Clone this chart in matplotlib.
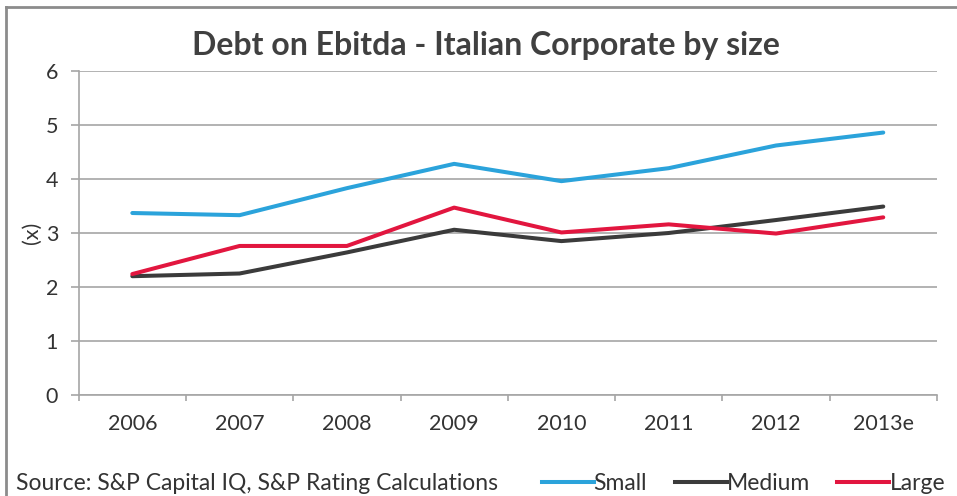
import matplotlib
matplotlib.use("Agg")
import matplotlib.pyplot as plt
from matplotlib.lines import Line2D
import numpy as np

plt.rcParams['font.family'] = ['Lato', 'DejaVu Sans']

years = ["2006", "2007", "2008", "2009", "2010", "2011", "2012", "2013e"]
small = [3.37, 3.33, 3.83, 4.28, 3.96, 4.20, 4.62, 4.86]
medium = [2.20, 2.25, 2.64, 3.06, 2.85, 3.00, 3.24, 3.49]
large = [2.24, 2.76, 2.76, 3.47, 3.01, 3.16, 2.99, 3.29]

series_names = ["Small", "Medium", "Large"]
series_colors = ["#2BA3DB", "#3B3B3B", "#E2163F"]

text_color = "#333333"
grid_color = "#A6A6A6"

fig = plt.figure(figsize=(9.57, 4.96), dpi=100)
ax = fig.add_axes([0.0822, 0.2036, 0.8968, 0.6533])

x = np.arange(len(years))
for vals, name, col in zip([small, medium, large], series_names, series_colors):
    ax.plot(x, vals, color=col, lw=2.9, solid_capstyle='round',
            solid_joinstyle='round', label=name, zorder=3)

ax.set_xlim(-0.5, len(years) - 0.5)
ax.set_ylim(0, 6)
ax.set_yticks(range(0, 7))
ax.yaxis.grid(True, color=grid_color, lw=1.2)
ax.set_axisbelow(True)

ax.set_xticks(x)
ax.set_xticklabels(years)
ax.set_xticks(np.arange(-0.5, len(years)), minor=True)
ax.tick_params(axis='x', which='major', length=0, pad=14, labelsize=15.5,
               labelcolor=text_color)
ax.tick_params(axis='x', which='minor', length=4.5, width=1.2, color=grid_color,
               direction='out')
ax.tick_params(axis='y', length=5.8, width=1.2, color=grid_color, pad=9,
               labelsize=15.5, labelcolor=text_color)

for s in ['top', 'right']:
    ax.spines[s].set_visible(False)
for s in ['left', 'bottom']:
    ax.spines[s].set_color(grid_color)
    ax.spines[s].set_linewidth(1.2)

ax.set_ylabel("(x)", fontsize=15.5, color=text_color, labelpad=3)

fig.text(0.508, 0.908, "Debt on Ebitda - Italian Corporate by size",
         ha='center', va='center', fontsize=23, fontweight='bold',
         color="#404040")

fig.text(0.0167, 0.026, "Source: S&P Capital IQ, S&P Rating Calculations",
         ha='left', va='center', fontsize=16.5, color=text_color)

handles = [Line2D([], [], color=c, lw=2.9) for c in series_colors]
leg = fig.legend(handles, series_names, loc='center right',
                 bbox_to_anchor=(0.9875, 0.026), ncol=3, frameon=False,
                 fontsize=16.5, handlelength=2.27, handletextpad=0.0,
                 columnspacing=1.2, borderaxespad=0.0, borderpad=0.0)
for t in leg.get_texts():
    t.set_color(text_color)

# outer frame (left and top edges visible)
fig.add_artist(Line2D([0.0063, 0.0063], [0.0, 0.986], transform=fig.transFigure,
                      color="#8C8C8C", lw=2))
fig.add_artist(Line2D([0.0063, 1.0], [0.986, 0.986], transform=fig.transFigure,
                      color="#8C8C8C", lw=2))

fig.savefig("out.png", dpi=100)
